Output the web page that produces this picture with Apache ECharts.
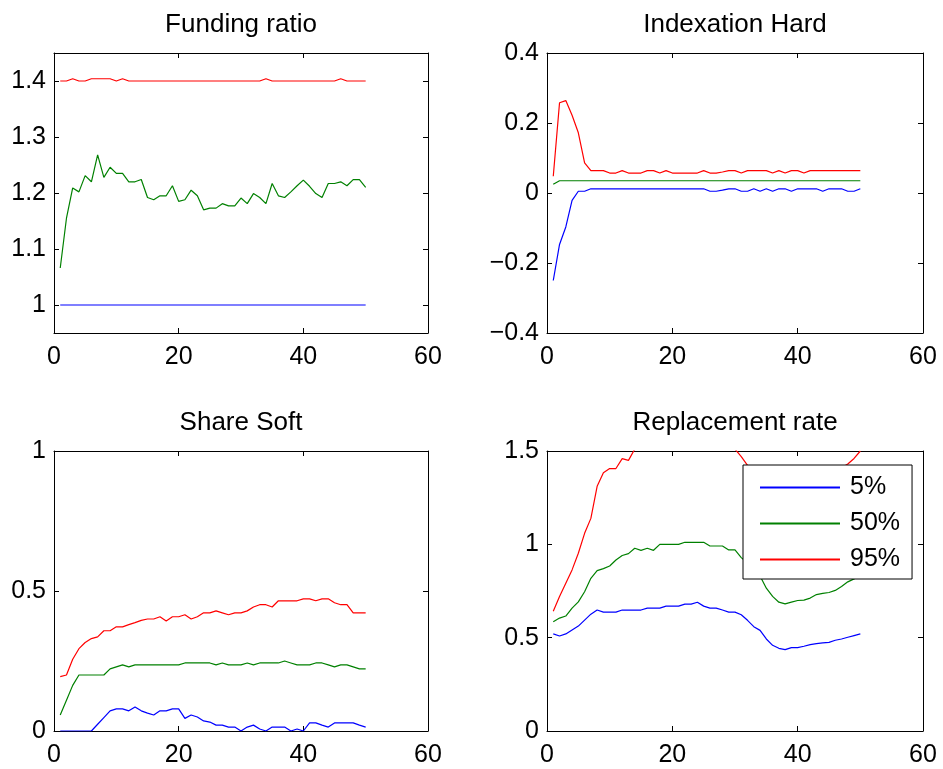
<!DOCTYPE html>
<html>
<head>
<meta charset="utf-8">
<script src="https://cdn.jsdelivr.net/npm/echarts@6/dist/echarts.min.js"></script>
<style>
html,body{margin:0;padding:0;background:#fff;}
#chart{width:943px;height:769px;}
</style>
</head>
<body>
<div id="chart"></div>
<script>
// ---- data ----
const periods = [1,2,3,4,5,6,7,8,9,10,11,12,13,14,15,16,17,18,19,20,21,22,23,24,25,26,27,28,29,30,31,32,33,34,35,36,37,38,39,40,41,42,43,44,45,46,47,48,49,50];
const seriesNames = ['5%', '50%', '95%'];
const panelTitles = ['Funding ratio', 'Indexation Hard', 'Share Soft', 'Replacement rate'];

const fundingP5 = [1,1,1,1,1,1,1,1,1,1,1,1,1,1,1,1,1,1,1,1,1,1,1,1,1,1,1,1,1,1,1,1,1,1,1,1,1,1,1,1,1,1,1,1,1,1,1,1,1,1];
const fundingP50 = [1.066,1.155,1.209,1.202,1.231,1.220,1.268,1.228,1.246,1.235,
  1.235,1.220,1.220,1.224,1.192,1.188,1.195,1.195,1.213,1.185,
  1.188,1.205,1.195,1.170,1.173,1.173,1.181,1.177,1.177,1.191,
  1.181,1.199,1.192,1.181,1.217,1.195,1.192,1.202,1.213,1.223,
  1.212,1.199,1.192,1.217,1.217,1.220,1.213,1.224,1.224,1.210];
const fundingP95 = [1.400,1.400,1.404,1.400,1.400,1.404,1.404,1.404,1.404,1.400,
  1.404,1.400,1.400,1.400,1.400,1.400,1.400,1.400,1.400,1.400,
  1.400,1.400,1.400,1.400,1.400,1.400,1.400,1.400,1.400,1.400,
  1.400,1.400,1.400,1.404,1.400,1.400,1.400,1.400,1.400,1.400,
  1.400,1.400,1.400,1.400,1.400,1.404,1.400,1.400,1.400,1.400];

const hardP5 = [-0.250,-0.147,-0.097,-0.021,0.005,0.005,0.012,0.012,0.012,0.012,
  0.012,0.012,0.012,0.012,0.012,0.012,0.012,0.012,0.012,0.012,
  0.012,0.012,0.012,0.012,0.012,0.005,0.005,0.008,0.012,0.012,
  0.005,0.005,0.012,0.005,0.012,0.005,0.012,0.012,0.005,0.012,
  0.012,0.012,0.012,0.005,0.012,0.012,0.012,0.005,0.005,0.012];
const hardP50 = [0.025,0.035,0.035,0.035,0.035,0.035,0.035,0.035,0.035,0.035,
  0.035,0.035,0.035,0.035,0.035,0.035,0.035,0.035,0.035,0.035,
  0.035,0.035,0.035,0.035,0.035,0.035,0.035,0.035,0.035,0.035,
  0.035,0.035,0.035,0.035,0.035,0.035,0.035,0.035,0.035,0.035,
  0.035,0.035,0.035,0.035,0.035,0.035,0.035,0.035,0.035,0.035];
const hardP95 = [0.048,0.258,0.264,0.222,0.172,0.086,0.064,0.064,0.064,0.057,
  0.057,0.064,0.057,0.057,0.057,0.064,0.064,0.057,0.064,0.057,
  0.057,0.057,0.057,0.057,0.064,0.057,0.057,0.060,0.064,0.064,
  0.057,0.064,0.064,0.064,0.064,0.057,0.064,0.057,0.064,0.064,
  0.057,0.064,0.064,0.064,0.064,0.064,0.064,0.064,0.064,0.064];

const softP5 = [0,0,0,0,0,0,0.024,0.048,0.072,0.079,
  0.079,0.072,0.086,0.072,0.064,0.057,0.072,0.072,0.079,0.079,
  0.045,0.057,0.050,0.036,0.032,0.021,0.021,0.014,0.014,0,
  0.014,0.021,0.007,0,0.014,0.014,0.014,0,0.007,0,
  0.029,0.029,0.021,0.014,0.029,0.029,0.029,0.029,0.021,0.014];
const softP50 = [0.057,0.110,0.163,0.200,0.200,0.200,0.200,0.200,0.222,0.229,
  0.236,0.229,0.236,0.236,0.236,0.236,0.236,0.236,0.236,0.236,
  0.243,0.243,0.243,0.243,0.243,0.236,0.243,0.236,0.236,0.236,
  0.243,0.236,0.243,0.243,0.243,0.243,0.250,0.243,0.236,0.236,
  0.236,0.243,0.243,0.236,0.229,0.236,0.236,0.229,0.222,0.222];
const softP95 = [0.194,0.200,0.256,0.294,0.316,0.330,0.336,0.358,0.358,0.372,
  0.372,0.380,0.387,0.395,0.400,0.400,0.408,0.393,0.408,0.408,
  0.415,0.400,0.408,0.422,0.422,0.429,0.422,0.415,0.422,0.422,
  0.429,0.443,0.451,0.451,0.443,0.465,0.465,0.465,0.465,0.472,
  0.472,0.465,0.472,0.472,0.458,0.451,0.451,0.422,0.422,0.422];

const replP5 = [0.520,0.509,0.520,0.541,0.562,0.594,0.626,0.648,0.637,0.637,
  0.637,0.648,0.648,0.648,0.648,0.658,0.658,0.658,0.669,0.669,
  0.669,0.680,0.680,0.690,0.669,0.658,0.658,0.648,0.637,0.637,
  0.623,0.593,0.559,0.539,0.493,0.459,0.443,0.436,0.447,0.447,
  0.454,0.463,0.468,0.472,0.475,0.486,0.493,0.502,0.511,0.520];
const replP50 = [0.585,0.605,0.616,0.658,0.692,0.746,0.818,0.859,0.870,0.884,
  0.916,0.940,0.950,0.979,0.968,0.979,0.968,1.000,1.000,1.000,
  1.000,1.011,1.011,1.011,1.011,0.991,0.991,0.991,0.970,0.970,
  0.929,0.900,0.865,0.830,0.765,0.721,0.690,0.681,0.690,0.699,
  0.701,0.712,0.731,0.737,0.742,0.753,0.774,0.799,0.815,0.830];
const replP95 = [0.641,0.721,0.792,0.863,0.952,1.059,1.139,1.311,1.384,1.406,
  1.406,1.459,1.450,1.510,1.550,1.580,1.600,1.620,1.630,1.630,
  1.640,1.640,1.650,1.650,1.640,1.630,1.610,1.590,1.560,1.510,
  1.470,1.423,1.380,1.330,1.280,1.250,1.230,1.220,1.220,1.230,
  1.250,1.270,1.300,1.330,1.360,1.390,1.410,1.430,1.460,1.500];

const xTicks = {min: 0, max: 60, interval: 20};
const fundingYTicks = [1, 1.1, 1.2, 1.3, 1.4];
const hardYTicks = {min: -0.4, max: 0.4, interval: 0.2};
const softYTicks = {min: 0, max: 1, interval: 0.5};
const replYTicks = {min: 0, max: 1.5, interval: 0.5};

// ---- layout / style ----
const FONT = 'Liberation Sans, Arial, Helvetica, sans-serif';
const FS = 25;
const TFS = 26;
const colors = ['#0000ff', '#008000', '#ff0000'];
const grids = [
  {left: 54, top: 53, width: 374, height: 280},
  {left: 547, top: 53, width: 376, height: 280},
  {left: 54, top: 451, width: 374, height: 280},
  {left: 547, top: 451, width: 376, height: 280}
];
const panels = [
  {data: [fundingP5, fundingP50, fundingP95], y: {min: 0.95, max: 1.45, custom: fundingYTicks}},
  {data: [hardP5, hardP50, hardP95], y: hardYTicks},
  {data: [softP5, softP50, softP95], y: softYTicks},
  {data: [replP5, replP50, replP95], y: replYTicks}
];

const axisLine = {show: true, onZero: false, lineStyle: {color: '#000', width: 1}};
const tickBase = {show: true, inside: true, length: 5, lineStyle: {color: '#000', width: 1}};
function minusFmt(v) {
  const r = Math.round(v * 1000) / 1000;
  return r < 0 ? '\u2212' + String(-r) : String(r);
}

const xAxis = [], yAxis = [], series = [], title = [];
panels.forEach((p, g) => {
  const gr = grids[g];
  ['bottom', 'top'].forEach((pos, k) => {
    xAxis.push({
      gridIndex: g, type: 'value', position: pos,
      min: xTicks.min, max: xTicks.max, interval: xTicks.interval,
      axisLine: axisLine, axisTick: tickBase,
      axisLabel: {show: k === 0, margin: 12, fontSize: FS, color: '#000', fontFamily: FONT},
      splitLine: {show: false}
    });
  });
  ['left', 'right'].forEach((pos, k) => {
    const y = {
      gridIndex: g, type: 'value', position: pos,
      min: p.y.min, max: p.y.max,
      axisLine: axisLine,
      axisTick: Object.assign({}, tickBase),
      axisLabel: {show: k === 0, margin: 8, fontSize: FS, color: '#000', fontFamily: FONT, formatter: minusFmt},
      splitLine: {show: false}
    };
    if (p.y.custom) {
      y.axisTick.customValues = p.y.custom;
      y.axisLabel.customValues = p.y.custom;
    } else {
      y.interval = p.y.interval;
    }
    yAxis.push(y);
  });
  p.data.forEach((vals, s) => {
    series.push({
      name: seriesNames[s], type: 'line',
      xAxisIndex: g * 2, yAxisIndex: g * 2,
      data: periods.map((x, i) => [x, vals[i]]),
      symbol: 'none', showSymbol: false, clip: true,
      lineStyle: {color: colors[s], width: 1.2},
      itemStyle: {color: colors[s]},
      color: colors[s],
      animation: false, silent: true
    });
  });
  title.push({
    text: panelTitles[g], left: gr.left + gr.width / 2, top: gr.top - 41.5, padding: 0,
    textAlign: 'center',
    textStyle: {fontSize: TFS, fontWeight: 'normal', color: '#000', fontFamily: FONT}
  });
});

const chart = echarts.init(document.getElementById('chart'), null, {renderer: 'canvas'});
chart.setOption({
  backgroundColor: '#fff',
  animation: false,
  title: title,
  grid: grids.map(g => Object.assign({containLabel: false}, g)),
  xAxis: xAxis,
  yAxis: yAxis,
  legend: {
    data: seriesNames, orient: 'vertical', left: 743, top: 465,
    itemWidth: 80, itemHeight: 25, itemGap: 11,
    padding: [10, 12, 7, 16],
    borderColor: '#000', borderWidth: 1, borderRadius: 0, backgroundColor: '#fff',
    selectedMode: false,
    itemStyle: {opacity: 0},
    textStyle: {fontSize: FS, color: '#000', lineHeight: 25, fontFamily: FONT, padding: [0, 0, 0, 5]},
    z: 10
  },
  series: series
});
</script>
</body>
</html>
